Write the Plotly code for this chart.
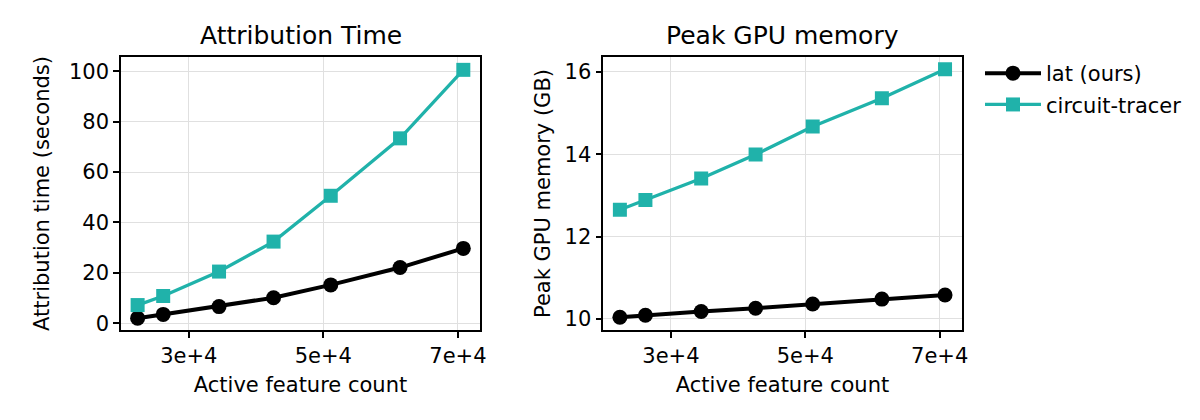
import plotly.graph_objects as go

# Data
feature_counts = [22400, 26200, 34500, 42600, 51100, 61400, 70800]
lat_time = [2.0, 3.5, 6.6, 10.1, 15.2, 22.1, 29.7]
ct_time = [7.2, 10.8, 20.5, 32.4, 50.6, 73.4, 100.6]
lat_mem = [10.04, 10.09, 10.18, 10.26, 10.36, 10.48, 10.58]
ct_mem = [12.65, 12.89, 13.41, 13.99, 14.67, 15.36, 16.06]
series_names = ["lat (ours)", "circuit-tracer"]
x_tickvals = [30000, 50000, 70000]
x_ticktext = ["3e+4", "5e+4", "7e+4"]
left_yticks = [0, 20, 40, 60, 80, 100]
right_yticks = [10, 12, 14, 16]
titles = ["Attribution Time", "Peak GPU memory"]
x_label = "Active feature count"
y_labels = ["Attribution time (seconds)", "Peak GPU memory (GB)"]

BLACK = "#000000"
TEAL = "#20B2AA"
FONT = "DejaVu Sans"

fig = go.Figure()

def add_pair(xa, ya, lat, ct, show):
    fig.add_trace(go.Scatter(
        x=feature_counts, y=lat, mode="lines+markers", name=series_names[0],
        line=dict(color=BLACK, width=4),
        marker=dict(symbol="circle", size=15, color=BLACK),
        xaxis=xa, yaxis=ya, showlegend=show, legendgroup="lat"))
    fig.add_trace(go.Scatter(
        x=feature_counts, y=ct, mode="lines+markers", name=series_names[1],
        line=dict(color=TEAL, width=3.3),
        marker=dict(symbol="square", size=14, color=TEAL),
        xaxis=xa, yaxis=ya, showlegend=show, legendgroup="ct"))

add_pair("x", "y", lat_time, ct_time, True)
add_pair("x2", "y2", lat_mem, ct_mem, False)

# page body has an 8px margin; work in page pixel coordinates
OFF = 8
W, H = 1184, 404
def px(v):
    return (v - OFF) / W
def py(v):
    return 1 - (v - OFF) / H

ydom = [py(330), py(57)]
xdom1 = [px(121), px(480)]
xdom2 = [px(603.3), px(961.7)]

axis_common = dict(
    showline=True, linecolor=BLACK, linewidth=1.5, mirror=True,
    ticks="outside", ticklen=6, tickwidth=1.5, tickcolor=BLACK,
    showgrid=True, gridcolor="#e0e0e0", gridwidth=1,
    zeroline=False, automargin=False,
    tickfont=dict(family=FONT, size=21, color=BLACK),
)

xrange = [19930, 73280]

fig.update_layout(
    width=W, height=H,
    margin=dict(l=0, r=0, t=0, b=0),
    paper_bgcolor="white", plot_bgcolor="white",
    font=dict(family=FONT, size=21, color=BLACK),
    xaxis=dict(domain=xdom1, range=xrange, tickmode="array", tickvals=x_tickvals,
               ticktext=x_ticktext, anchor="y",
               title=dict(text=x_label, standoff=10, font=dict(size=21)), **axis_common),
    yaxis=dict(domain=ydom, range=[-2.7, 105.7], tickmode="array", tickvals=left_yticks,
               anchor="x",
               title=dict(text=y_labels[0], standoff=14, font=dict(size=21)), **axis_common),
    xaxis2=dict(domain=xdom2, range=xrange, tickmode="array", tickvals=x_tickvals,
                ticktext=x_ticktext, anchor="y2",
                title=dict(text=x_label, standoff=10, font=dict(size=21)), **axis_common),
    yaxis2=dict(domain=ydom, range=[9.73, 16.36], tickmode="array", tickvals=right_yticks,
                anchor="x2",
                title=dict(text=y_labels[1], standoff=8, font=dict(size=21)), **axis_common),
    legend=dict(x=px(980), y=py(53), xanchor="left", yanchor="top",
                font=dict(family=FONT, size=21, color=BLACK),
                bgcolor="rgba(0,0,0,0)", itemwidth=56, tracegroupgap=1),
    annotations=[
        dict(text=titles[0], x=(xdom1[0] + xdom1[1]) / 2, y=py(35),
             xref="paper", yref="paper", showarrow=False, xanchor="center", yanchor="middle",
             font=dict(family=FONT, size=25, color=BLACK)),
        dict(text=titles[1], x=(xdom2[0] + xdom2[1]) / 2, y=py(35),
             xref="paper", yref="paper", showarrow=False, xanchor="center", yanchor="middle",
             font=dict(family=FONT, size=25, color=BLACK)),
    ],
)

fig.write_html("out.html")
